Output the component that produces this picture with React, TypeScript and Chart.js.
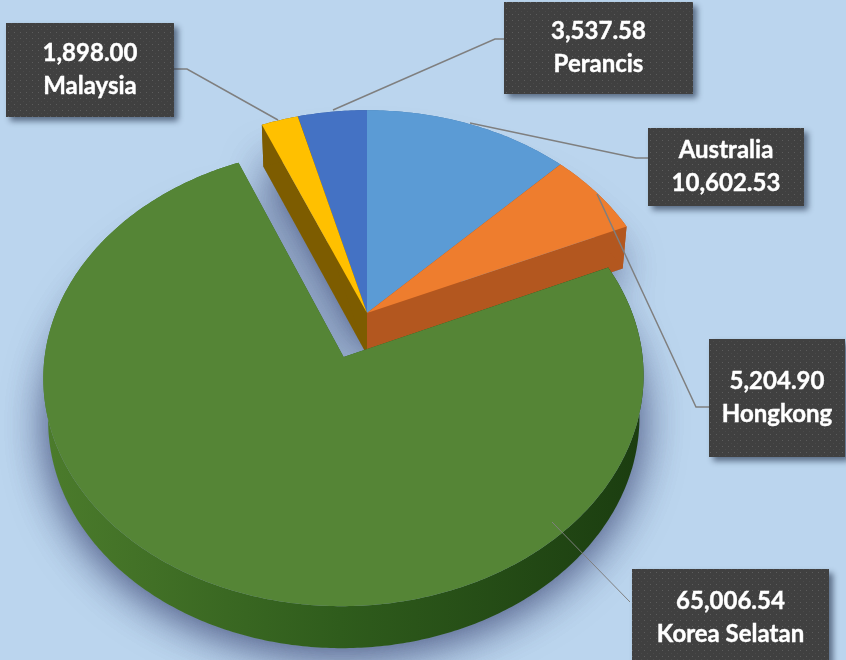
import React, { useEffect, useRef } from "react";
import { Chart, registerables } from "chart.js";

Chart.register(...registerables);

const categories = ["Australia", "Hongkong", "Korea Selatan", "Malaysia", "Perancis"];
const values = [10602.53, 5204.9, 65006.54, 1898.0, 3537.58];
const valueLabels = ["10,602.53", "5,204.90", "65,006.54", "1,898.00", "3,537.58"];
const sliceOffsets = [0, 0, 60, 0, 0];
const topColors = ["#5b9bd5", "#ee7d2e", "#558536", "#ffc000", "#4472c4"];
const wallColors = ["#3f74a8", "#b3571f", "#2f5b1c", "#7d5c00", "#2f5597"];

const BG = "#bbd5ee";
// perspective of the tilted pie plane
const SCALE_X = 294;
const SCALE_Y = 220;
const PERSP = 0.085;
const DEPTH = 42;
const DEPTH_SHRINK = 0.985;
const drawOrder = [0, 4, 3, 1, 2];

// label boxes: [x0, y0, x1, y1], order of lines, leader polyline
const boxes = [
  { i: 0, rect: [648, 128, 804, 206], nameFirst: true, leader: [[648, 158], [636, 158], [470, 123]], lw: 1.5 },
  { i: 1, rect: [709, 339, 845, 457], nameFirst: false, leader: [[709, 407], [696, 407], [597, 194]], lw: 1.5 },
  { i: 2, rect: [632, 569, 829, 666], nameFirst: false, leader: [[630, 602], [552, 522]], lw: 1 },
  { i: 3, rect: [6, 23, 174, 117], nameFirst: false, leader: [[174, 69], [187, 69], [278, 120]], lw: 1.5 },
  { i: 4, rect: [504, 2, 693, 94], nameFirst: false, leader: [[504, 39], [495, 39], [333, 110]], lw: 1.5 },
];

function dotPattern(ctx: CanvasRenderingContext2D) {
  const c = document.createElement("canvas");
  c.width = 6;
  c.height = 6;
  const p = c.getContext("2d")!;
  p.fillStyle = "#404040";
  p.fillRect(0, 0, 6, 6);
  p.fillStyle = "#5c5c5c";
  p.fillRect(2, 2, 1, 1);
  p.fillStyle = "#4a4a4a";
  p.fillRect(5, 5, 1, 1);
  return ctx.createPattern(c, "repeat")!;
}

const pie3d = {
  id: "pie3d",
  beforeDatasetsDraw(chart: any) {
    const ctx: CanvasRenderingContext2D = chart.ctx;
    const arcs = chart.getDatasetMeta(0).data;
    const outline = (arc: any, idx: number) => {
      const R = arc.outerRadius;
      const mid = (arc.startAngle + arc.endAngle) / 2;
      const off = sliceOffsets[idx] / R;
      const ou = Math.cos(mid) * off;
      const ov = Math.sin(mid) * off;
      const pr = (u: number, v: number) => {
        const w = 1 - PERSP * v;
        return [arc.x + (SCALE_X * u) / w, arc.y + (SCALE_Y * v) / w];
      };
      const pts = [pr(ou, ov)];
      const n = Math.max(4, Math.ceil((arc.endAngle - arc.startAngle) / 0.012));
      for (let k = 0; k <= n; k++) {
        const a = arc.startAngle + ((arc.endAngle - arc.startAngle) * k) / n;
        pts.push(pr(ou + Math.cos(a), ov + Math.sin(a)));
      }
      const low = pts.map(([x, y]) => [arc.x + (x - arc.x) * DEPTH_SHRINK, y + DEPTH]);
      return { pts, low };
    };
    const trace = (p: number[][]) => {
      p.forEach(([x, y], k) => (k ? ctx.lineTo(x, y) : ctx.moveTo(x, y)));
      ctx.closePath();
    };
    const poly = (p: number[][]) => {
      ctx.beginPath();
      trace(p);
    };
    const shapes = arcs.map((a: any, i: number) => outline(a, i));

    // soft shadow under the whole pie, cast by the joined silhouette
    ctx.save();
    ctx.shadowColor = "rgba(50,58,105,0.55)";
    ctx.shadowBlur = 44;
    ctx.shadowOffsetY = 5;
    ctx.fillStyle = "#7f93b0";
    for (let pass = 0; pass < 2; pass++) {
      ctx.beginPath();
      shapes.forEach((s: any) => {
        trace(s.low);
      });
      ctx.fill();
    }
    ctx.restore();

    drawOrder.forEach((i) => {
      const s = shapes[i];
      let wall: any = wallColors[i];
      if (i === 2) {
        const g = ctx.createLinearGradient(40, 0, 640, 0);
        g.addColorStop(0, "#4c7c2c");
        g.addColorStop(0.5, "#2f5c1c");
        g.addColorStop(1, "#1b3d10");
        wall = g;
      }
      ctx.fillStyle = wall;
      const m = s.pts.length;
      // radial walls
      [
        [0, 1],
        [m - 1, 0],
      ].forEach(([k, n]) => {
        poly([s.pts[k], s.pts[n], s.low[n], s.low[k]]);
        ctx.fill();
      });
      // rim wall as a single band
      poly([...s.pts.slice(1), ...s.low.slice(1).reverse()]);
      ctx.fill();
      poly(s.pts);
      ctx.fillStyle = topColors[i];
      ctx.fill();
    });

    // leaders
    ctx.strokeStyle = "#7f7f7f";
    boxes.forEach((b) => {
      ctx.lineWidth = b.lw;
      ctx.beginPath();
      b.leader.forEach(([x, y], k) => (k ? ctx.lineTo(x, y) : ctx.moveTo(x, y)));
      ctx.stroke();
    });

    // label boxes
    const pat = dotPattern(ctx);
    boxes.forEach((b) => {
      const [x0, y0, x1, y1] = b.rect;
      ctx.save();
      ctx.shadowColor = "rgba(35,50,75,0.65)";
      ctx.shadowBlur = 6;
      ctx.shadowOffsetX = 4;
      ctx.shadowOffsetY = 4;
      ctx.fillStyle = "#404040";
      ctx.fillRect(x0, y0, x1 - x0, y1 - y0);
      ctx.restore();
      ctx.fillStyle = pat;
      ctx.fillRect(x0, y0, x1 - x0, y1 - y0);
      ctx.fillStyle = "#ffffff";
      ctx.strokeStyle = "#ffffff";
      ctx.lineWidth = 0.4;
      ctx.font = "bold 24px Lato";
      ctx.textAlign = "center";
      ctx.textBaseline = "middle";
      const cx = (x0 + x1) / 2;
      const cy = (y0 + y1) / 2;
      const lines = b.nameFirst
        ? [categories[b.i], valueLabels[b.i]]
        : [valueLabels[b.i], categories[b.i]];
      lines.forEach((t, k) => {
        const y = cy + (k ? 16.5 : -16.5);
        ctx.fillText(t, cx, y);
        ctx.strokeText(t, cx, y);
      });
    });
    return false;
  },
};

export default function App() {
  const ref = useRef<HTMLCanvasElement>(null);
  useEffect(() => {
    const chart = new Chart(ref.current!, {
      type: "pie",
      data: {
        labels: categories,
        datasets: [{ data: values, backgroundColor: topColors, offset: sliceOffsets, borderWidth: 0 }],
      },
      options: {
        animation: false,
        responsive: false,
        devicePixelRatio: 1,
        layout: { padding: { left: 0, top: 0, right: 112, bottom: 34 } },
        plugins: { legend: { display: false }, tooltip: { enabled: false } },
      },
      plugins: [pie3d],
    } as any);
    return () => chart.destroy();
  }, []);
  return (
    <div style={{ position: "fixed", left: 0, top: 0, width: 846, height: 660, background: BG, overflow: "hidden" }}>
      <canvas ref={ref} width={846} height={660} style={{ display: "block" }} />
    </div>
  );
}
